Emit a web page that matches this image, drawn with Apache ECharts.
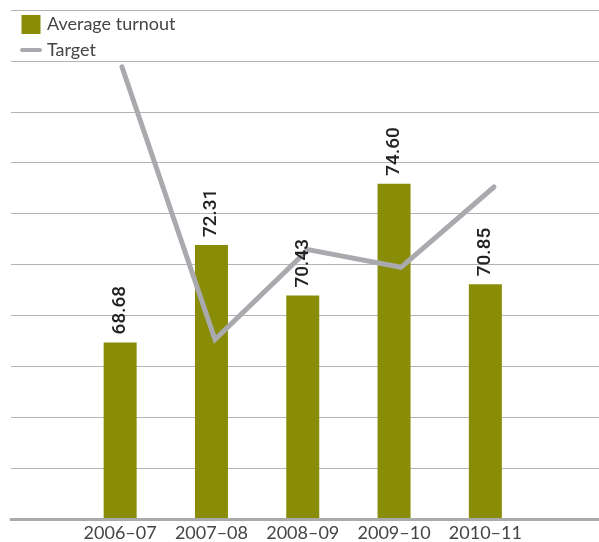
<!DOCTYPE html>
<html>
<head>
<meta charset="utf-8">
<script src="https://cdn.jsdelivr.net/npm/echarts@6/dist/echarts.min.js"></script>
<style>
  html, body { margin: 0; padding: 0; background: #fff; }
  #chart { width: 599px; height: 542px; }
</style>
</head>
<body>
<div id="chart"></div>
<script>
// Seasons and turnout figures
const seasons = ['2006–07', '2007–08', '2008–09', '2009–10', '2010–11'];
const averageTurnout = [68.68, 72.31, 70.43, 74.60, 70.85];
const target = [78.96, 68.81, 72.16, 71.50, 74.49];

// Value range of the plot area
const yMin = 62.13;
const yMax = 81.08;

const OLIVE = '#898c06';
const GREY_LINE = '#a9aaad';
const TEXT = '#454545';

const chart = echarts.init(document.getElementById('chart'), null, { renderer: 'canvas' });

const valueLabel = {
  show: true,
  position: 'top',
  distance: 8,
  rotate: 90,
  align: 'left',
  verticalAlign: 'middle',
  fontFamily: 'Roboto',
  fontWeight: 500,
  fontSize: 19,
  color: '#222222',
  formatter: p => p.value.toFixed(2)
};

chart.setOption({
  animation: false,
  backgroundColor: '#fff',
  textStyle: { fontFamily: 'Lato, sans-serif' },
  legend: {
    orient: 'vertical',
    left: 20,
    top: 15,
    padding: 0,
    itemWidth: 22,
    itemHeight: 19,
    itemGap: 7,
    textStyle: { fontFamily: 'Lato', fontSize: 18, color: TEXT },
    data: [
      { name: 'Average turnout', icon: 'path://M0,0h1v1h-1z' },
      {
        name: 'Target',
        icon: 'path://M2,0h18a2,2 0 0 1 0,4h-18a2,2 0 0 1 0,-4z',
        itemStyle: { color: GREY_LINE }
      }
    ]
  },
  grid: [
    // full-width background rules
    { left: 11, right: 0, top: 10, height: 509 },
    // bars
    { left: 74.5, width: 456.5, top: 10, height: 509 },
    // target line
    { left: 75.5, width: 465, top: 10, height: 509 }
  ],
  xAxis: [
    {
      gridIndex: 0, type: 'category', data: seasons,
      axisLine: { show: true, lineStyle: { color: '#aaaaaa', width: 3 } },
      axisTick: { show: false }, axisLabel: { show: false }, splitLine: { show: false }
    },
    {
      gridIndex: 1, type: 'category', data: seasons,
      axisLine: { show: false }, axisTick: { show: false },
      axisLabel: { interval: 0, fontFamily: 'Lato', fontSize: 18, color: TEXT, margin: 6 }
    },
    {
      gridIndex: 2, type: 'category', data: seasons, show: false
    }
  ],
  yAxis: [
    {
      gridIndex: 0, type: 'value', min: 0, max: 10, interval: 1,
      axisLine: { show: false }, axisTick: { show: false }, axisLabel: { show: false },
      splitLine: { show: true, lineStyle: { color: '#b4b4b4', width: 1 } }
    },
    {
      gridIndex: 1, type: 'value', min: yMin, max: yMax, show: false,
      splitLine: { show: false }
    },
    {
      gridIndex: 2, type: 'value', min: yMin, max: yMax, show: false,
      splitLine: { show: false }
    }
  ],
  series: [
    {
      name: 'Average turnout',
      type: 'bar',
      xAxisIndex: 1, yAxisIndex: 1,
      data: averageTurnout,
      barWidth: 33,
      itemStyle: { color: OLIVE },
      z: 2
    },
    {
      name: 'Target',
      type: 'line',
      xAxisIndex: 2, yAxisIndex: 2,
      data: target,
      symbol: 'none',
      lineStyle: { color: GREY_LINE, width: 5, cap: 'round', join: 'miter' },
      itemStyle: { color: GREY_LINE },
      z: 3
    },
    {
      // value labels, kept above the target line
      name: 'turnout labels',
      type: 'bar',
      xAxisIndex: 1, yAxisIndex: 1,
      data: averageTurnout,
      barWidth: 33,
      barGap: '-100%',
      itemStyle: { color: 'rgba(0,0,0,0)' },
      label: valueLabel,
      silent: true,
      z: 4
    }
  ]
});
</script>
</body>
</html>
